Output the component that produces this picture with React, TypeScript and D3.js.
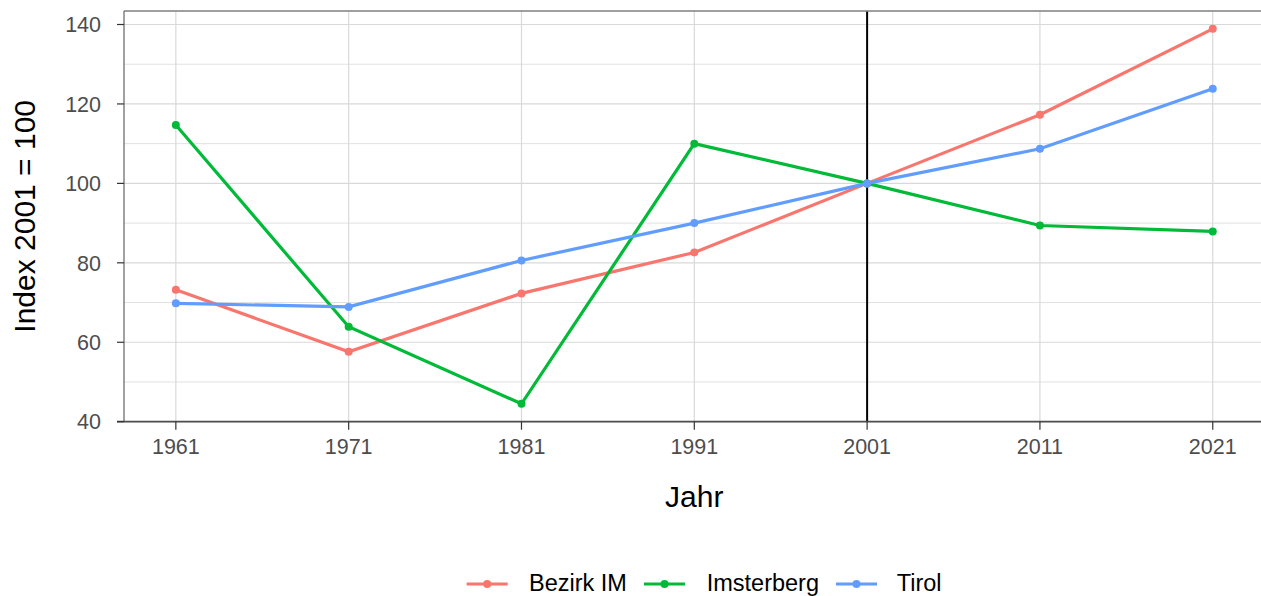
import React from "react";
import * as d3 from "d3";

const years = [1961, 1971, 1981, 1991, 2001, 2011, 2021];
const seriesNames = ["Bezirk IM", "Imsterberg", "Tirol"];
const bezirkIM = [73.2, 57.6, 72.3, 82.6, 100, 117.3, 138.9];
const imsterberg = [114.7, 63.9, 44.5, 110.0, 100, 89.4, 87.9];
const tirol = [69.8, 68.9, 80.6, 90.0, 100, 108.7, 123.8];
const colors = ["#F8766D", "#00BA38", "#619CFF"];
const yTicks = [40, 60, 80, 100, 120, 140];
const yMinor = [50, 70, 90, 110, 130];
const refYear = 2001;

const W = 1261;
const H = 596;
const L = 124, R = 1264.6, T = 11, B = 421.7;

export default function App() {
  const x = d3.scaleLinear().domain([1958, 2024]).range([L, R]);
  const y = d3.scaleLinear().domain([40, 143.4]).range([B, T]);
  const data = [bezirkIM, imsterberg, tirol];
  const line = d3
    .line<number>()
    .x((_, i) => x(years[i]))
    .y((d) => y(d));
  const font = "Arial, 'Liberation Sans', sans-serif";
  const legendX = [466.7, 644, 836];
  const legendTextX = [529, 706.7, 896.7];
  return (
    <svg
      width={W}
      height={H}
      style={{ position: "absolute", left: 0, top: 0, background: "#fff" }}
      fontFamily={font}
    >
      <defs>
        <clipPath id="panel">
          <rect x={L} y={T} width={R - L} height={B - T} />
        </clipPath>
      </defs>
      {/* grid */}
      {yMinor.map((v) => (
        <line key={"ym" + v} x1={L} x2={W} y1={y(v)} y2={y(v)} stroke="#e1e1e1" strokeWidth={1} />
      ))}
      {yTicks.map((v) => (
        <line key={"yg" + v} x1={L} x2={W} y1={y(v)} y2={y(v)} stroke="#d9d9d9" strokeWidth={1.2} />
      ))}
      {years.map((v) => (
        <line key={"xg" + v} x1={x(v)} x2={x(v)} y1={T} y2={B} stroke="#d9d9d9" strokeWidth={1.2} />
      ))}
      {/* reference line */}
      <line x1={x(refYear)} x2={x(refYear)} y1={T} y2={B} stroke="#000" strokeWidth={2} />
      {/* series */}
      <g clipPath="url(#panel)">
        {data.map((s, k) => (
          <g key={seriesNames[k]}>
            <path d={line(s) || ""} fill="none" stroke={colors[k]} strokeWidth={3.2} />
            {s.map((v, i) => (
              <circle key={i} cx={x(years[i])} cy={y(v)} r={4} fill={colors[k]} />
            ))}
          </g>
        ))}
      </g>
      {/* panel border */}
      <line x1={L} x2={W} y1={T} y2={T} stroke="#7f7f7f" strokeWidth={1.3} />
      <line x1={L} x2={L} y1={T} y2={B} stroke="#6f6f6f" strokeWidth={1.3} />
      <line x1={L - 7} x2={W} y1={B} y2={B} stroke="#4d4d4d" strokeWidth={1.8} />
      {/* y axis */}
      {yTicks.map((v) => (
        <g key={"yt" + v}>
          <line x1={L - 7} x2={L} y1={y(v)} y2={y(v)} stroke="#333" strokeWidth={1.2} />
          <text x={101} y={y(v)} dy="0.36em" textAnchor="end" fontSize={21.5} fill="#4d4d4d">
            {v}
          </text>
        </g>
      ))}
      {/* x axis */}
      {years.map((v) => (
        <g key={"xt" + v}>
          <line x1={x(v)} x2={x(v)} y1={B} y2={B + 8} stroke="#333" strokeWidth={1.2} />
          <text x={x(v)} y={453.5} textAnchor="middle" fontSize={21.5} fill="#4d4d4d">
            {v}
          </text>
        </g>
      ))}
      {/* axis titles */}
      <text x={(L + R) / 2} y={507} textAnchor="middle" fontSize={30} fill="#000">
        Jahr
      </text>
      <text
        transform={`translate(35,${(T + B) / 2}) rotate(-90)`}
        textAnchor="middle"
        fontSize={30}
        fill="#000"
      >
        Index 2001 = 100
      </text>
      {/* legend */}
      {seriesNames.map((n, k) => (
        <g key={"lg" + n}>
          <line x1={legendX[k]} x2={legendX[k] + 41} y1={584} y2={584} stroke={colors[k]} strokeWidth={3.2} />
          <circle cx={legendX[k] + 20.5} cy={584} r={4} fill={colors[k]} />
          <text x={legendTextX[k]} y={591} fontSize={23.5} fill="#000">
            {n}
          </text>
        </g>
      ))}
    </svg>
  );
}
